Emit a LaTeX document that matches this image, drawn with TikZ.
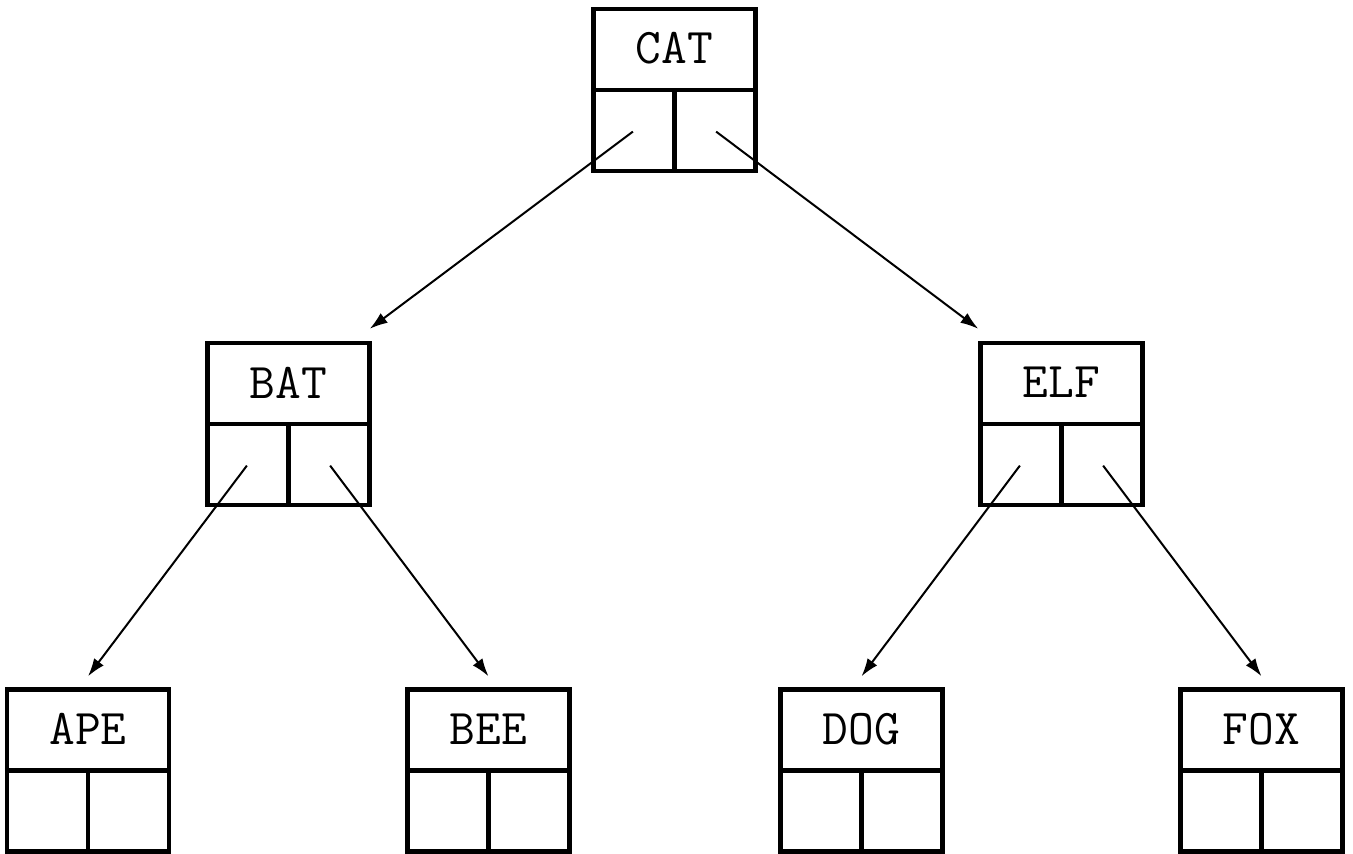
\documentclass[tikz,border=0pt]{standalone}
\usetikzlibrary{calc,arrows.meta}
\begin{document}
\begin{tikzpicture}[x=0.5pt,y=-0.5pt,
  recbox/.style={draw,line width=2.2pt,minimum width=81pt,minimum height=81pt,inner sep=0pt},
  divline/.style={line width=2.2pt},
  lbl/.style={font=\fontsize{25}{25}\selectfont\ttfamily,inner sep=0pt},
  arr/.style={line width=1pt,-{Latex[length=9pt,width=6pt]}}]
\useasboundingbox (0,0) rectangle (1353,853);
\foreach \n/\cx/\top in {CAT/674.5/9, BAT/288.5/343, ELF/1061.5/343, APE/88/689.5, BEE/488.5/689.5, DOG/861.5/689.5, FOX/1261.5/689.5}{
  \node[recbox] (\n) at (\cx,\top+81) {};
  \draw[divline] (\n.west) -- (\n.east);
  \draw[divline] (\n.center) -- (\n.south);
  \node[lbl] (\n t) at ($(\n.north)!0.5!(\n.center)$) {\n};
  \coordinate (\n l) at ($(\n.center)!0.5!(\n.south west)$);
  \coordinate (\n r) at ($(\n.center)!0.5!(\n.south east)$);
}
\draw[arr] (CATl) -- ([xshift=-1pt,yshift=6pt]BAT.north east);
\draw[arr] (CATr) -- ([yshift=6pt]ELF.north west);
\draw[arr] (BATl) -- ([yshift=5.5pt]APE.north);
\draw[arr] (BATr) -- ([yshift=5.5pt]BEE.north);
\draw[arr] (ELFl) -- ([yshift=5.5pt]DOG.north);
\draw[arr] (ELFr) -- ([yshift=5.5pt]FOX.north);
\end{tikzpicture}
\end{document}
